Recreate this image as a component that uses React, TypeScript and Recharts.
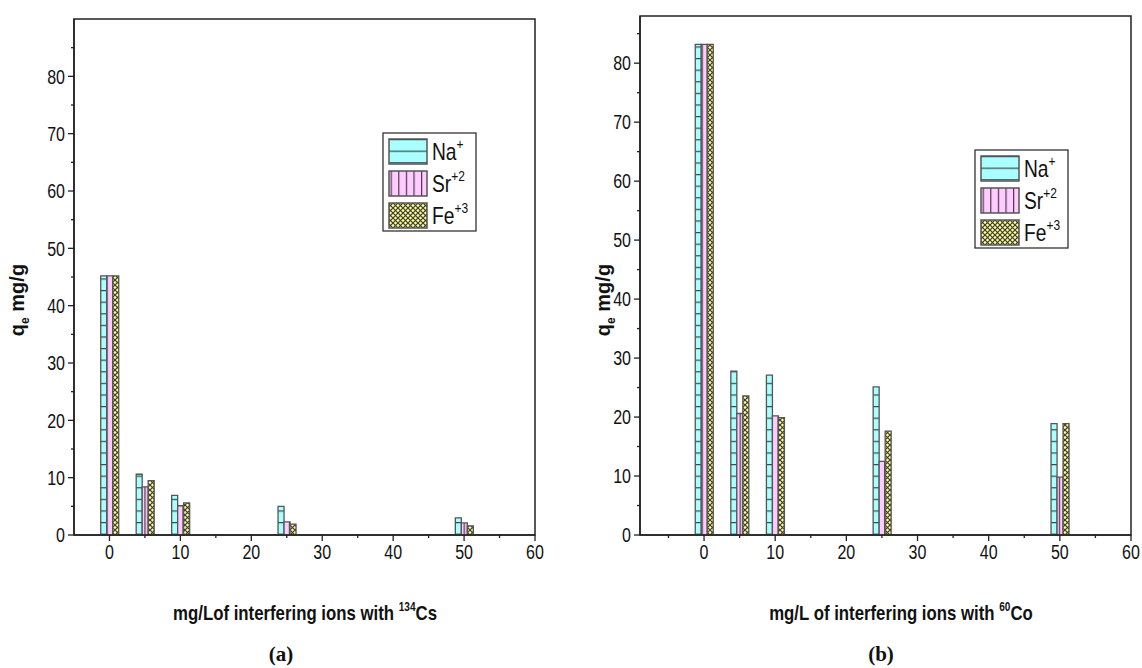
import React from 'react';
import { BarChart, Bar, XAxis, YAxis, ReferenceArea } from 'recharts';

const concentrations = [0, 5, 10, 25, 50];
const naA = [45.2, 10.6, 6.9, 5.0, 3.0];
const srA = [45.2, 8.4, 5.1, 2.3, 2.1];
const feA = [45.2, 9.5, 5.6, 1.9, 1.6];
const naB = [83.2, 27.8, 27.1, 25.1, 18.9];
const srB = [83.2, 20.6, 20.2, 12.5, 9.8];
const feB = [83.2, 23.6, 19.9, 17.6, 18.9];

const seriesKeys = ['na', 'sr', 'fe'];
const seriesNames = ['Na', 'Sr', 'Fe'];
const seriesCharges = ['+', '+2', '+3'];
const patternIds = ['naPat', 'srPat', 'fePat'];

const xTicksA = [0, 5, 10, 15, 20, 25, 30, 35, 40, 45, 50, 55, 60];
const xTicksB = [-5, 0, 5, 10, 15, 20, 25, 30, 35, 40, 45, 50, 55, 60];
const yTicksA = [0, 5, 10, 15, 20, 25, 30, 35, 40, 45, 50, 55, 60, 65, 70, 75, 80, 85];
const yTicksB = [0, 5, 10, 15, 20, 25, 30, 35, 40, 45, 50, 55, 60, 65, 70, 75, 80, 85];

const dataA = concentrations.map((c, i) => ({ c, na: naA[i], sr: srA[i], fe: feA[i] }));
const dataB = concentrations.map((c, i) => ({ c, na: naB[i], sr: srB[i], fe: feB[i] }));

const SANS = "'Liberation Sans', Arial, sans-serif";
const AXIS = '#222';
const NARROW_SCALE = 0.8;

const YTick = (props: any) => {
  const { x, y, payload } = props;
  const v = payload.value;
  const major = v % 10 === 0;
  return (
    <g>
      <line x1={x} x2={x - (major ? 6 : 3)} y1={y} y2={y} stroke={AXIS} strokeWidth={1.3} />
      {major && (
        <text
          transform={`translate(${x - 9},${y}) scale(${NARROW_SCALE},1)`}
          dy="0.36em"
          textAnchor="end"
          fontFamily={SANS}
          fontSize={20}
          fill="#111"
        >
          {v}
        </text>
      )}
    </g>
  );
};

const XTick = (props: any) => {
  const { x, y, payload } = props;
  const v = payload.value;
  const major = v % 10 === 0;
  return (
    <g>
      <line x1={x} x2={x} y1={y} y2={y + (major ? 6 : 3)} stroke={AXIS} strokeWidth={1.3} />
      {major && (
        <text
          transform={`translate(${x},${y + 24}) scale(${NARROW_SCALE},1)`}
          textAnchor="middle"
          fontFamily={SANS}
          fontSize={20}
          fill="#111"
        >
          {v}
        </text>
      )}
    </g>
  );
};

const Panel = ({ data, xDomain, yDomain, xTicks, yTicks, yAxisWidth, margin, width, height }: any) => (
  <BarChart width={width} height={height} data={data} margin={margin} barGap={0}>
    <XAxis
      dataKey="c"
      type="number"
      domain={xDomain}
      ticks={xTicks}
      allowDataOverflow
      height={30}
      tickSize={0}
      tickMargin={0}
      tickLine={false}
      tick={<XTick />}
      axisLine={{ stroke: AXIS, strokeWidth: 1.5 }}
      interval={0}
    />
    <YAxis
      type="number"
      domain={yDomain}
      ticks={yTicks}
      allowDataOverflow
      width={yAxisWidth}
      tickSize={0}
      tickMargin={0}
      tickLine={false}
      tick={<YTick />}
      axisLine={{ stroke: AXIS, strokeWidth: 1.5 }}
      interval={0}
    />
    {seriesKeys.map((k, i) => (
      <Bar
        key={k}
        dataKey={k}
        fill={`url(#${patternIds[i]})`}
        stroke="#555"
        strokeWidth={1.3}
        barSize={6}
        isAnimationActive={false}
      />
    ))}
    <ReferenceArea
      x1={xDomain[0]}
      x2={xDomain[1]}
      y1={yDomain[0]}
      y2={yDomain[1]}
      fill="none"
      fillOpacity={0}
      stroke={AXIS}
      strokeWidth={1.5}
      ifOverflow="visible"
    />
  </BarChart>
);

const Legend = ({ x, y }: { x: number; y: number }) => (
  <g transform={`translate(${x},${y})`}>
    <rect x={0} y={0} width={93} height={98} fill="#fff" stroke="#333" strokeWidth={1.3} />
    {seriesNames.map((n, i) => (
      <g key={n} transform={`translate(0,${6 + i * 32})`}>
        <rect x={6} y={0} width={38} height={25} fill={`url(#${patternIds[i]})`} stroke="#555" strokeWidth={1.5} />
        <text transform={`translate(49,21) scale(${NARROW_SCALE},1)`} fontFamily={SANS} fontSize={24} fill="#111">
          {n}
          <tspan dy={-11} fontSize={15}>{seriesCharges[i]}</tspan>
        </text>
      </g>
    ))}
  </g>
);

export default function App() {
  return (
    <div style={{ position: 'absolute', left: 0, top: 0, width: 1142, height: 668, background: '#fff', overflow: 'hidden' }}>
      <svg width={0} height={0} style={{ position: 'absolute' }}>
        <defs>
          <pattern id="naPat" patternUnits="userSpaceOnUse" width={10} height={11.6}>
            <rect width={10} height={11.6} fill="#aaffff" />
            <line x1={0} x2={10} y1={0.6} y2={0.6} stroke="#3a4a4a" strokeWidth={1.2} />
          </pattern>
          <pattern id="srPat" patternUnits="userSpaceOnUse" width={7.6} height={10}>
            <rect width={7.6} height={10} fill="#ffccff" />
            <line x1={0.6} x2={0.6} y1={0} y2={10} stroke="#4a3a4a" strokeWidth={1.2} />
          </pattern>
          <pattern id="fePat" patternUnits="userSpaceOnUse" width={5} height={5}>
            <rect width={5} height={5} fill="#ffff99" />
            <path d="M0,0 L5,5 M5,0 L0,5" stroke="#3a3a30" strokeWidth={1.2} />
          </pattern>
        </defs>
      </svg>
      <div style={{ position: 'absolute', left: 0, top: 0 }}>
        <Panel
          data={dataA}
          xDomain={[-5, 60]}
          yDomain={[0, 90]}
          xTicks={xTicksA}
          yTicks={yTicksA}
          yAxisWidth={74}
          width={560}
          height={590}
          margin={{ top: 19, right: 25, bottom: 25, left: 0 }}
        />
      </div>
      <div style={{ position: 'absolute', left: 580, top: 0 }}>
        <Panel
          data={dataB}
          xDomain={[-9, 60]}
          yDomain={[0, 88]}
          xTicks={xTicksB}
          yTicks={yTicksB}
          yAxisWidth={60}
          width={562}
          height={590}
          margin={{ top: 16, right: 11, bottom: 25, left: 0 }}
        />
      </div>
      <svg width={1142} height={668} style={{ position: 'absolute', left: 0, top: 0, pointerEvents: 'none' }}>
        <Legend x={383} y={133} />
        <Legend x={975} y={150} />
        <text transform="translate(24,300) rotate(-90)" textAnchor="middle" fontFamily={SANS} fontWeight="bold" fontSize={20} fill="#111">
          q<tspan dy={5} fontSize={12}>e</tspan>
          <tspan dy={-5}> mg/g</tspan>
        </text>
        <text transform="translate(610,300) rotate(-90)" textAnchor="middle" fontFamily={SANS} fontWeight="bold" fontSize={20} fill="#111">
          q<tspan dy={5} fontSize={12}>e</tspan>
          <tspan dy={-5}> mg/g</tspan>
        </text>
        <text transform="translate(305,620) scale(0.84,1)" textAnchor="middle" fontFamily={SANS} fontWeight="bold" fontSize={20} fill="#111">
          mg/Lof interfering ions with <tspan dy={-9} fontSize={12}>134</tspan>
          <tspan dy={9}>Cs</tspan>
        </text>
        <text transform="translate(901,620) scale(0.84,1)" textAnchor="middle" fontFamily={SANS} fontWeight="bold" fontSize={20} fill="#111">
          mg/L of interfering ions with <tspan dy={-9} fontSize={12}>60</tspan>
          <tspan dy={9}>Co</tspan>
        </text>
        <text x={281} y={661} textAnchor="middle" fontFamily="'Liberation Serif', 'Times New Roman', serif" fontWeight="bold" fontSize={21} fill="#111">
          (a)
        </text>
        <text x={881} y={661} textAnchor="middle" fontFamily="'Liberation Serif', 'Times New Roman', serif" fontWeight="bold" fontSize={21} fill="#111">
          (b)
        </text>
      </svg>
    </div>
  );
}
